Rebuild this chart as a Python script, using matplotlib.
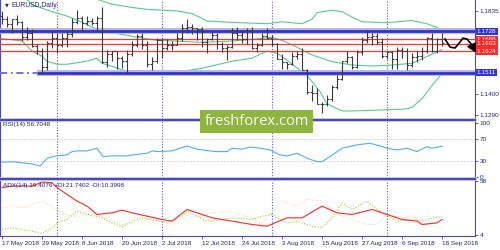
import matplotlib
matplotlib.use('Agg')
import matplotlib.pyplot as plt
from matplotlib.lines import Line2D
from matplotlib.patches import Rectangle
from matplotlib.transforms import blended_transform_factory

# ---------------- data ----------------
opens = [1.1808, 1.1794, 1.1768, 1.1792, 1.1778, 1.1695, 1.1720, 1.1651, 1.1624, 1.1539,
         1.1665, 1.1693, 1.1658, 1.1694, 1.1715, 1.1776, 1.1798, 1.1769, 1.1781, 1.1773,
         1.1795, 1.1568, 1.1609, 1.1623, 1.1590, 1.1570, 1.1609, 1.1655, 1.1704, 1.1656,
         1.1555, 1.1572, 1.1684, 1.1640, 1.1655, 1.1655, 1.1690, 1.1745, 1.1750, 1.1744,
         1.1740, 1.1670, 1.1685, 1.1710, 1.1660, 1.1640, 1.1645, 1.1720, 1.1710, 1.1685,
         1.1730, 1.1640, 1.1655, 1.1705, 1.1690, 1.1660, 1.1585, 1.1565, 1.1555, 1.1600,
         1.1610, 1.1525, 1.1410, 1.1405, 1.1345, 1.1345, 1.1375, 1.1435, 1.1480, 1.1570,
         1.1595, 1.1540, 1.1620, 1.1680, 1.1700, 1.1705, 1.1670, 1.1600, 1.1620, 1.1585,
         1.1630, 1.1625, 1.1550, 1.1595, 1.1600, 1.1625, 1.1690, 1.1625, 1.1685]
highs = [1.1834, 1.1808, 1.1791, 1.1815, 1.1781, 1.1749, 1.1738, 1.1662, 1.1640, 1.1677,
         1.1723, 1.1721, 1.1717, 1.1726, 1.1796, 1.1840, 1.1808, 1.1809, 1.1798, 1.1805,
         1.1852, 1.1629, 1.1624, 1.1624, 1.1599, 1.1631, 1.1675, 1.1715, 1.1720, 1.1675,
         1.1593, 1.1692, 1.1688, 1.1688, 1.1677, 1.1721, 1.1764, 1.1791, 1.1768, 1.1746,
         1.1748, 1.1690, 1.1725, 1.1719, 1.1669, 1.1658, 1.1744, 1.1748, 1.1734, 1.1745,
         1.1751, 1.1666, 1.1719, 1.1746, 1.1709, 1.1666, 1.1610, 1.1569, 1.1620, 1.1627,
         1.1638, 1.1531, 1.1445, 1.1433, 1.1357, 1.1397, 1.1445, 1.1497, 1.1574, 1.1624,
         1.1598, 1.1630, 1.1697, 1.1733, 1.1718, 1.1719, 1.1690, 1.1625, 1.1625, 1.1643,
         1.1646, 1.1641, 1.1615, 1.1622, 1.1644, 1.1700, 1.1721, 1.1691, 1.1720]
lows = [1.1763, 1.1751, 1.1717, 1.1760, 1.1676, 1.1683, 1.1645, 1.1608, 1.1510, 1.1525,
        1.1641, 1.1616, 1.1646, 1.1646, 1.1700, 1.1765, 1.1725, 1.1760, 1.1760, 1.1727,
        1.1562, 1.1542, 1.1574, 1.1531, 1.1538, 1.1508, 1.1597, 1.1645, 1.1634, 1.1541,
        1.1527, 1.1560, 1.1590, 1.1630, 1.1631, 1.1654, 1.1678, 1.1719, 1.1712, 1.1683,
        1.1646, 1.1613, 1.1683, 1.1633, 1.1617, 1.1575, 1.1638, 1.1683, 1.1668, 1.1662,
        1.1637, 1.1621, 1.1650, 1.1686, 1.1650, 1.1581, 1.1528, 1.1530, 1.1550, 1.1585,
        1.1527, 1.1400, 1.1365, 1.1345, 1.1301, 1.1337, 1.1363, 1.1425, 1.1473, 1.1562,
        1.1531, 1.1536, 1.1605, 1.1665, 1.1655, 1.1660, 1.1590, 1.1585, 1.1529, 1.1528,
        1.1589, 1.1525, 1.1543, 1.1565, 1.1576, 1.1616, 1.1620, 1.1616, 1.1652]
closes = [1.1794, 1.1768, 1.1792, 1.1778, 1.1695, 1.1720, 1.1651, 1.1624, 1.1539, 1.1665,
          1.1693, 1.1658, 1.1694, 1.1715, 1.1776, 1.1798, 1.1769, 1.1781, 1.1773, 1.1795,
          1.1568, 1.1609, 1.1623, 1.1590, 1.1570, 1.1609, 1.1655, 1.1704, 1.1656, 1.1555,
          1.1572, 1.1684, 1.1640, 1.1655, 1.1655, 1.1690, 1.1745, 1.1750, 1.1744, 1.1740,
          1.1670, 1.1685, 1.1710, 1.1660, 1.1640, 1.1645, 1.1720, 1.1710, 1.1685, 1.1730,
          1.1640, 1.1655, 1.1705, 1.1690, 1.1660, 1.1585, 1.1565, 1.1555, 1.1600, 1.1610,
          1.1525, 1.1410, 1.1405, 1.1345, 1.1345, 1.1375, 1.1435, 1.1480, 1.1570, 1.1595,
          1.1540, 1.1620, 1.1680, 1.1700, 1.1705, 1.1670, 1.1600, 1.1620, 1.1585, 1.1630,
          1.1625, 1.1550, 1.1595, 1.1600, 1.1625, 1.1690, 1.1625, 1.1685, 1.1665]

date_ticks = [0, 8, 16, 24, 32, 40, 48, 56, 64, 72, 80, 88]
date_labels = ['17 May 2018', '29 May 2018', '8 Jun 2018', '20 Jun 2018', '2 Jul 2018',
               '12 Jul 2018', '24 Jul 2018', '3 Aug 2018', '15 Aug 2018', '27 Aug 2018',
               '6 Sep 2018', '18 Sep 2018']
month_seps = [11, 32, 54, 77]

# Bollinger bands
bb_up_x = [17, 19, 22, 26, 29, 35, 38, 40, 41, 46, 53, 56, 60, 62, 63, 66, 68, 70, 72, 77, 82, 85, 88]
bb_up_y = [1.1905, 1.1895, 1.1869, 1.1852, 1.1842, 1.1834, 1.1820, 1.1795, 1.1781, 1.1774, 1.1767,
           1.1777, 1.1767, 1.1790, 1.1825, 1.1837, 1.1830, 1.1802, 1.1777, 1.1772, 1.1784, 1.1767, 1.1736]
bb_mid_x = [5, 6, 10, 13, 16, 19, 22, 26, 31, 36, 40, 45, 50, 54, 56, 58, 62, 66, 70, 74, 78, 82, 85, 88]
bb_mid_y = [1.1895, 1.1866, 1.1830, 1.1807, 1.1775, 1.1737, 1.1720, 1.1701, 1.1680, 1.1675, 1.1670,
            1.1675, 1.1685, 1.1696, 1.1680, 1.1657, 1.1604, 1.1569, 1.1551, 1.1546, 1.1551, 1.1560,
            1.1596, 1.1631]
bb_lo_x = [0, 4, 6, 8, 9, 11, 13, 17, 19, 20, 22, 25, 29, 31, 36, 40, 46, 50, 53, 55, 57, 61, 63.6,
           65, 68, 70, 77, 81, 82, 84, 86, 88]
bb_lo_y = [1.1689, 1.1677, 1.1624, 1.1597, 1.1571, 1.1555, 1.1555, 1.1571, 1.1587, 1.1560, 1.1544,
           1.1518, 1.1523, 1.1518, 1.1518, 1.1534, 1.1571, 1.1587, 1.1624, 1.1613, 1.1576, 1.1497,
           1.1412, 1.1348, 1.1311, 1.1311, 1.1317, 1.1322, 1.1330, 1.1375, 1.1444, 1.1507]

levels_blue = [1.1728, 1.1511]
levels_red = [1.1686, 1.1663, 1.1624]
price_ticks = [1.1835, 1.1400, 1.1290]
support_start = 7

# forecast arrow path (bar, price)
arrow_x = [88.6, 89.6, 90.6, 91.6, 92.2, 93.0, 94.0, 94.7]
arrow_y = [1.1687, 1.1645, 1.1640, 1.1671, 1.1692, 1.1687, 1.1656, 1.1616]

# RSI(14)
rsi_x = [0, 2, 4, 6, 7.6, 9, 10, 11, 13, 14, 15, 17, 19, 20.2, 22, 25, 26, 29, 30, 31, 34, 37, 39,
         41, 43, 45, 46, 48, 49.6, 51.6, 53.6, 55.6, 57, 59, 61, 63, 64, 65.6, 68, 71, 73.6, 75.6,
         77, 79, 81, 83, 85, 86, 88]
rsi_y = [27, 28, 26, 24, 20, 34, 37, 39, 40.5, 46.6, 48, 48, 52.8, 37.4, 38.7, 38.7, 40.5, 43.6,
         48, 46.6, 48, 57, 51, 48.4, 46.6, 46.6, 52.8, 51, 55, 52.8, 49.7, 40.5, 38.7, 43.6, 34.4,
         28.2, 28.2, 37.4, 52.8, 59, 62, 57.1, 52.8, 49.7, 52.8, 46.6, 55.8, 52.8, 56.7]

# ADX(14)
adx_x = [0, 2, 6, 8, 10, 11, 13, 15, 17, 19, 22, 24, 26, 29, 32, 34, 37, 40, 42, 46, 50, 53, 57,
         60, 64, 67, 70, 74, 77, 80, 83, 84, 87, 88]
adx_y = [51.7, 53.3, 53.3, 57.4, 56.8, 51.7, 44.8, 38, 32.9, 24.4, 26.1, 28.8, 26.1, 22.7, 19.3,
         17.6, 29.5, 24.4, 21, 17.6, 14.2, 12.5, 21, 21, 32.9, 26.1, 24.4, 29.5, 24.4, 19.3, 17.6,
         14.2, 15.9, 19.4]
pdi_x = [0, 2, 4, 6, 8, 10, 11, 13, 15, 17, 20, 22, 24, 26, 28, 30, 33, 36, 37, 39, 41, 44, 46,
         50, 52, 54, 55, 57, 59, 62, 64, 66, 68, 70, 73, 75, 77, 79, 82, 84, 86, 88]
pdi_y = [9.1, 10.8, 9.1, 7.4, 5, 10.8, 15.9, 19.3, 27.8, 24.4, 21, 15.9, 11.9, 17.6, 21, 19.3,
         15.9, 22.7, 27.8, 22.7, 17.6, 19.3, 21, 19.3, 22.7, 24.4, 21, 15.9, 17.6, 12.5, 10.8, 21,
         36.3, 29.5, 38, 29.5, 22.7, 17.6, 19.3, 17.6, 21, 21.7]
mdi_x = [0, 2, 5, 6, 8, 10, 11, 13, 15, 17, 19, 22, 24, 26, 29, 32, 34, 37, 40, 42, 45, 48, 50,
         52, 54, 56, 59, 61, 64, 66, 68, 70, 73, 75, 77, 80, 82, 85, 88]
mdi_y = [31.2, 32.9, 31.2, 34.6, 38, 32.9, 27.8, 24.4, 21, 27.8, 24.4, 17.6, 14.2, 15.9, 19.3,
         17.6, 17.6, 21, 22.7, 26.1, 27.8, 24.4, 21, 14.2, 27.8, 38, 32.9, 39.7, 38, 27.8, 22.7,
         19.3, 14.2, 14.2, 24.4, 21, 22.7, 14.2, 10.4]

# ---------------- style ----------------
W, H = 500, 250
NAVY = '#23237a'
FRAME = '#4a4ab4'
FONT = 'Liberation Sans'
FS = 4.6
XL = (-0.4, 94.6)


def rect(x0, y0, x1, y1):
    return [x0 / W, 1 - y1 / H, (x1 - x0) / W, (y1 - y0) / H]


fig = plt.figure(figsize=(W / 100, H / 100), dpi=100)
fig.patch.set_facecolor('white')

ax = fig.add_axes(rect(0, 0, 475, 119))
ax_r = fig.add_axes(rect(0, 121, 475, 178))
ax_a = fig.add_axes(rect(0, 180, 475, 236))

for a in (ax, ax_r, ax_a):
    a.set_xlim(*XL)
    a.set_facecolor('white')
    for s in a.spines.values():
        s.set_color(FRAME)
        s.set_linewidth(0.8)
    a.spines['top'].set_visible(False)
    a.yaxis.tick_right()
    a.tick_params(axis='y', direction='out', length=2, width=0.6, color=FRAME,
                  labelsize=FS, labelcolor=NAVY, pad=1.5)
    for lab in a.get_yticklabels():
        lab.set_fontfamily(FONT)
    for m in month_seps:
        a.axvline(m, color='#5a5ad0', lw=0.8, ls=(0, (1, 1.5)), zorder=1)

ax.set_xticks([])
ax_r.set_xticks([])
ax.spines['bottom'].set_visible(False)
ax_r.spines['bottom'].set_visible(False)

# ---- main price panel ----
ax.set_ylim(1.1269, 1.1891)
ax.set_yticks(price_ticks)
ax.set_yticklabels(['%.4f' % v for v in price_ticks], fontfamily=FONT)

ax.plot(bb_up_x, bb_up_y, color='#5cc88e', lw=0.8, zorder=2)
ax.plot(bb_mid_x, bb_mid_y, color='#5cc88e', lw=0.8, zorder=2)
ax.plot(bb_lo_x, bb_lo_y, color='#5cc88e', lw=0.8, zorder=2)

# blue levels
ax.axhline(levels_blue[0], color='#b4b4ea', lw=4.2, zorder=3)
ax.axhline(levels_blue[0], color='#3434c8', lw=2.0, zorder=3)
ax.plot([support_start, XL[1]], [levels_blue[1]] * 2, color='#b4b4ea', lw=4.2, zorder=3,
        solid_capstyle='butt')
ax.plot([support_start, XL[1]], [levels_blue[1]] * 2, color='#3434c8', lw=2.0, zorder=3,
        solid_capstyle='butt')
ax.plot([XL[0], support_start], [levels_blue[1]] * 2, color='#6a6ad8', lw=1.3,
        ls=(0, (4, 2, 1, 2)), zorder=3)
for lv in levels_red:
    ax.axhline(lv, color='#ff3636', lw=0.9, zorder=3)

# OHLC bars
xs = list(range(len(closes)))
ax.vlines(xs, lows, highs, color='#3a3a3a', lw=0.8, zorder=4)
ax.hlines(opens, [x - 0.4 for x in xs], xs, color='#3a3a3a', lw=0.8, zorder=4)
ax.hlines(closes, xs, [x + 0.4 for x in xs], color='#3a3a3a', lw=0.8, zorder=4)

# forecast arrow
ax.plot(arrow_x[:-1], arrow_y[:-1], color='black', lw=1.2, zorder=6, clip_on=False,
        solid_joinstyle='round')
ax.annotate('', xy=(arrow_x[-1], arrow_y[-1]), xytext=(arrow_x[-2], arrow_y[-2]),
            arrowprops=dict(arrowstyle='-|>,head_length=0.5,head_width=0.3', color='black',
                            lw=1.2, shrinkA=0, shrinkB=0), zorder=6, annotation_clip=False)

# colored price labels
tr = blended_transform_factory(ax.transAxes, ax.transData)
label_boxes = [(levels_blue[0], '#3333dd'), (levels_blue[1], '#3333dd'),
               (levels_red[0], '#ff2a2a'), (levels_red[1], '#ff2a2a'), (levels_red[2], '#ff2a2a')]
for v, c in label_boxes:
    ax.text(1.004, v, '%.4f' % v, transform=tr, ha='left', va='center', fontsize=FS,
            fontfamily=FONT, color='white', clip_on=False, zorder=8,
            bbox=dict(boxstyle='square,pad=0.18', fc=c, ec='none'))

ax.text(0.010, 0.955, '\u25bc', transform=ax.transAxes, fontsize=3.6, color=NAVY,
        ha='left', va='center', fontfamily='DejaVu Sans')
ax.text(0.024, 0.955, 'EURUSD,Daily', transform=ax.transAxes, fontsize=FS + 0.3, color=NAVY,
        ha='left', va='center', fontfamily=FONT)

# ---- RSI panel ----
ax_r.set_ylim(-2, 103)
ax_r.set_yticks([100, 70, 30, 0])
ax_r.set_yticklabels(['100', '70', '30', '0'], fontfamily=FONT)
for lv in (70, 30):
    ax_r.axhline(lv, color='#c8c8c8', lw=0.6, ls=(0, (2, 2)), zorder=1)
ax_r.plot(rsi_x, rsi_y, color='#55aaff', lw=0.8, zorder=3)
ax_r.text(0.006, 0.93, 'RSI(14) 56.7048', transform=ax_r.transAxes, fontsize=FS,
          color=NAVY, ha='left', va='center', fontfamily=FONT)

# ---- ADX panel ----
ax_a.set_ylim(2.5, 59.5)
ax_a.set_yticks([58, 4])
ax_a.set_yticklabels(['58', '4'], fontfamily=FONT)
ax_a.plot(pdi_x, pdi_y, color='#9acd32', lw=0.8, ls=(0, (1, 1.5)), zorder=2)
ax_a.plot(mdi_x, mdi_y, color='#f3d9ac', lw=0.8, ls=(0, (1, 1.5)), zorder=2)
ax_a.plot(adx_x, adx_y, color='#ff2a2a', lw=0.8, zorder=3)
ax_a.text(0.006, 0.90, 'ADX(14) 19.4076 +DI:21.7402 -DI:10.3998', transform=ax_a.transAxes,
          fontsize=FS, color=NAVY, ha='left', va='center', fontfamily=FONT)

ax_a.set_xticks(date_ticks)
ax_a.set_xticklabels(date_labels, fontfamily=FONT)
ax_a.tick_params(axis='x', direction='out', length=2.2, width=0.6, color=FRAME,
                 labelsize=FS, labelcolor=NAVY, pad=1.2)
for lab in ax_a.get_xticklabels():
    lab.set_horizontalalignment('left')

# panel separators
for yy in (120.0, 179.0):
    fig.add_artist(Line2D([0, 475 / W], [1 - yy / H] * 2, color='#b8b8e6', lw=2.6, zorder=5))
    fig.add_artist(Line2D([0, 475 / W], [1 - yy / H] * 2, color='#3f3fae', lw=1.3, zorder=5))

# watermark
fig.add_artist(Rectangle((200 / W, 1 - 133 / H), 113 / W, 23 / H, transform=fig.transFigure,
                         facecolor='#8db53f', edgecolor='none', zorder=10))
fig.text(256.5 / W, 1 - 121.5 / H, 'freshforex.com', color='white', fontsize=10.5,
         fontfamily='Open Sans', ha='center', va='center', zorder=11)

fig.savefig('out.png', dpi=100)
